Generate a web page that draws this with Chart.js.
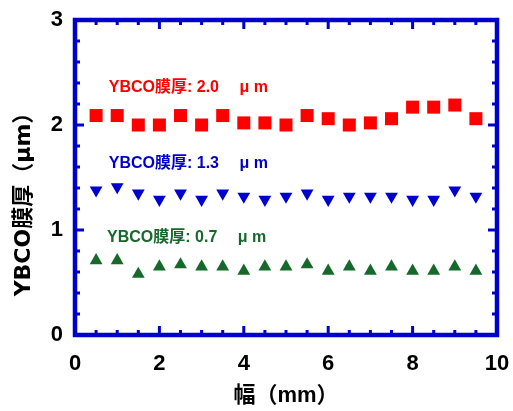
<!DOCTYPE html>
<html>
<head>
<meta charset="utf-8">
<script src="https://cdn.jsdelivr.net/npm/chart.js@4/dist/chart.umd.min.js"></script>
<style>
  html, body { margin: 0; padding: 0; background: #fff; }
  #wrap { width: 513px; height: 411px; }
</style>
</head>
<body>
<div id="wrap"><canvas id="thicknessChart"></canvas></div>
<script>
// width positions (mm)
var positions = [0.5, 1.0, 1.5, 2.0, 2.5, 3.0, 3.5, 4.0, 4.5, 5.0, 5.5, 6.0, 6.5, 7.0, 7.5, 8.0, 8.5, 9.0, 9.5];
// measured YBCO thickness (um)
var thick20 = [2.09, 2.09, 2.00, 2.00, 2.09, 2.00, 2.09, 2.02, 2.02, 2.00, 2.09, 2.06, 2.00, 2.02, 2.06, 2.17, 2.17, 2.19, 2.06];
var thick13 = [1.38, 1.41, 1.35, 1.29, 1.35, 1.29, 1.35, 1.32, 1.29, 1.32, 1.35, 1.29, 1.32, 1.32, 1.32, 1.29, 1.29, 1.38, 1.32];
var thick07 = [0.71, 0.71, 0.58, 0.65, 0.67, 0.65, 0.65, 0.61, 0.65, 0.65, 0.67, 0.61, 0.65, 0.61, 0.65, 0.61, 0.61, 0.65, 0.61];
var seriesLabels = ["YBCO膜厚: 2.0 \u3000μ m", "YBCO膜厚: 1.3 \u3000μ m", "YBCO膜厚: 0.7 \u3000μ m"];
// where each series label sits, in data units
var labelX = [0.8, 0.8, 0.76];
var labelY = [2.36, 1.63, 0.93];
var xTicks = [0, 2, 4, 6, 8, 10];
var yTicks = [0, 1, 2, 3];
var yTitle = "YBCO膜厚（μm）";

var colors = ["#ff0000", "#0000cc", "#17692b"];
var axisBlue = "#0000cc";
var fontFam = "'Liberation Sans', Arial, 'Noto Sans CJK JP', sans-serif";
var wideFam = "'DejaVu Sans', 'Noto Sans CJK JP', sans-serif";

function toPoints(ys) {
    return positions.map(function (x, i) { return { x: x, y: ys[i] }; });
}

// frame with inward ticks on all four sides + series captions + y title
var framePlugin = {
    id: 'frame',
    afterDraw: function (chart) {
        var ctx = chart.ctx;
        var a = chart.chartArea;
        var xs = chart.scales.x, ys = chart.scales.y;
        ctx.save();
        ctx.strokeStyle = axisBlue;
        ctx.lineWidth = 3;
        var v, p, len;
        for (v = 0; v <= 10.001; v += 0.5) {
            p = xs.getPixelForValue(v);
            len = (Math.abs(v / 2 - Math.round(v / 2)) < 0.01) ? 9 : 5;
            ctx.beginPath();
            ctx.moveTo(p, a.bottom); ctx.lineTo(p, a.bottom - len);
            ctx.moveTo(p, a.top); ctx.lineTo(p, a.top + len);
            ctx.stroke();
        }
        for (v = 0; v <= 3.001; v += 0.2) {
            p = ys.getPixelForValue(v);
            len = (Math.abs(v - Math.round(v)) < 0.01) ? 9 : 5;
            ctx.beginPath();
            ctx.moveTo(a.left, p); ctx.lineTo(a.left + len, p);
            ctx.moveTo(a.right, p); ctx.lineTo(a.right - len, p);
            ctx.stroke();
        }
        ctx.lineWidth = 4.5;
        ctx.strokeRect(a.left, a.top, a.right - a.left, a.bottom - a.top);

        ctx.font = "bold 16px " + fontFam;
        ctx.textBaseline = 'middle';
        ctx.textAlign = 'left';
        for (var i = 0; i < seriesLabels.length; i++) {
            ctx.fillStyle = colors[i];
            ctx.fillText(seriesLabels[i], xs.getPixelForValue(labelX[i]), ys.getPixelForValue(labelY[i]));
        }

        // y axis title, sits a bit below the plot centre like the original
        ctx.fillStyle = '#000';
        ctx.font = "bold 22px " + wideFam;
        ctx.textAlign = 'center';
        ctx.translate(24, 199);
        ctx.rotate(-Math.PI / 2);
        ctx.fillText(yTitle, 0, 0);
        ctx.restore();
    }
};

var ctx = document.getElementById("thicknessChart").getContext('2d');
new Chart(ctx, {
    type: 'scatter',
    data: {
        datasets: [
            {
                data: toPoints(thick20),
                pointStyle: 'rect',
                pointRadius: 9.2,
                backgroundColor: colors[0],
                borderWidth: 0
            },
            {
                data: toPoints(thick13),
                pointStyle: 'triangle',
                rotation: 180,
                pointRadius: 7.4,
                backgroundColor: colors[1],
                borderWidth: 0
            },
            {
                data: toPoints(thick07),
                pointStyle: 'triangle',
                pointRadius: 7.4,
                backgroundColor: colors[2],
                borderWidth: 0
            }
        ]
    },
    options: {
        responsive: true,
        maintainAspectRatio: false,
        animation: false,
        events: [],
        layout: { padding: { top: 20, right: 16, left: 0, bottom: 0 } },
        plugins: { legend: { display: false }, tooltip: { enabled: false } },
        scales: {
            x: {
                type: 'linear',
                min: 0, max: 10,
                afterBuildTicks: function (s) { s.ticks = xTicks.map(function (v) { return { value: v }; }); },
                afterFit: function (s) { s.height = 76; s.paddingLeft = 0; s.paddingRight = 0; },
                grid: { display: false, drawTicks: false },
                border: { display: false },
                ticks: { color: '#000', padding: 16, maxRotation: 0, font: { family: fontFam, size: 22, weight: 'bold' } },
                title: {
                    display: true,
                    text: '幅（mm）',
                    color: '#000',
                    padding: { top: 0, bottom: 2 },
                    font: { family: fontFam, size: 22, weight: 'bold' }
                }
            },
            y: {
                type: 'linear',
                min: 0, max: 3,
                afterBuildTicks: function (s) { s.ticks = yTicks.map(function (v) { return { value: v }; }); },
                afterFit: function (s) { s.width = 75; s.paddingTop = 0; s.paddingBottom = 0; },
                grid: { display: false, drawTicks: false },
                border: { display: false },
                ticks: { color: '#000', padding: 12, font: { family: fontFam, size: 22, weight: 'bold' } },
                title: { display: false }
            }
        }
    },
    plugins: [framePlugin]
});
</script>
</body>
</html>
